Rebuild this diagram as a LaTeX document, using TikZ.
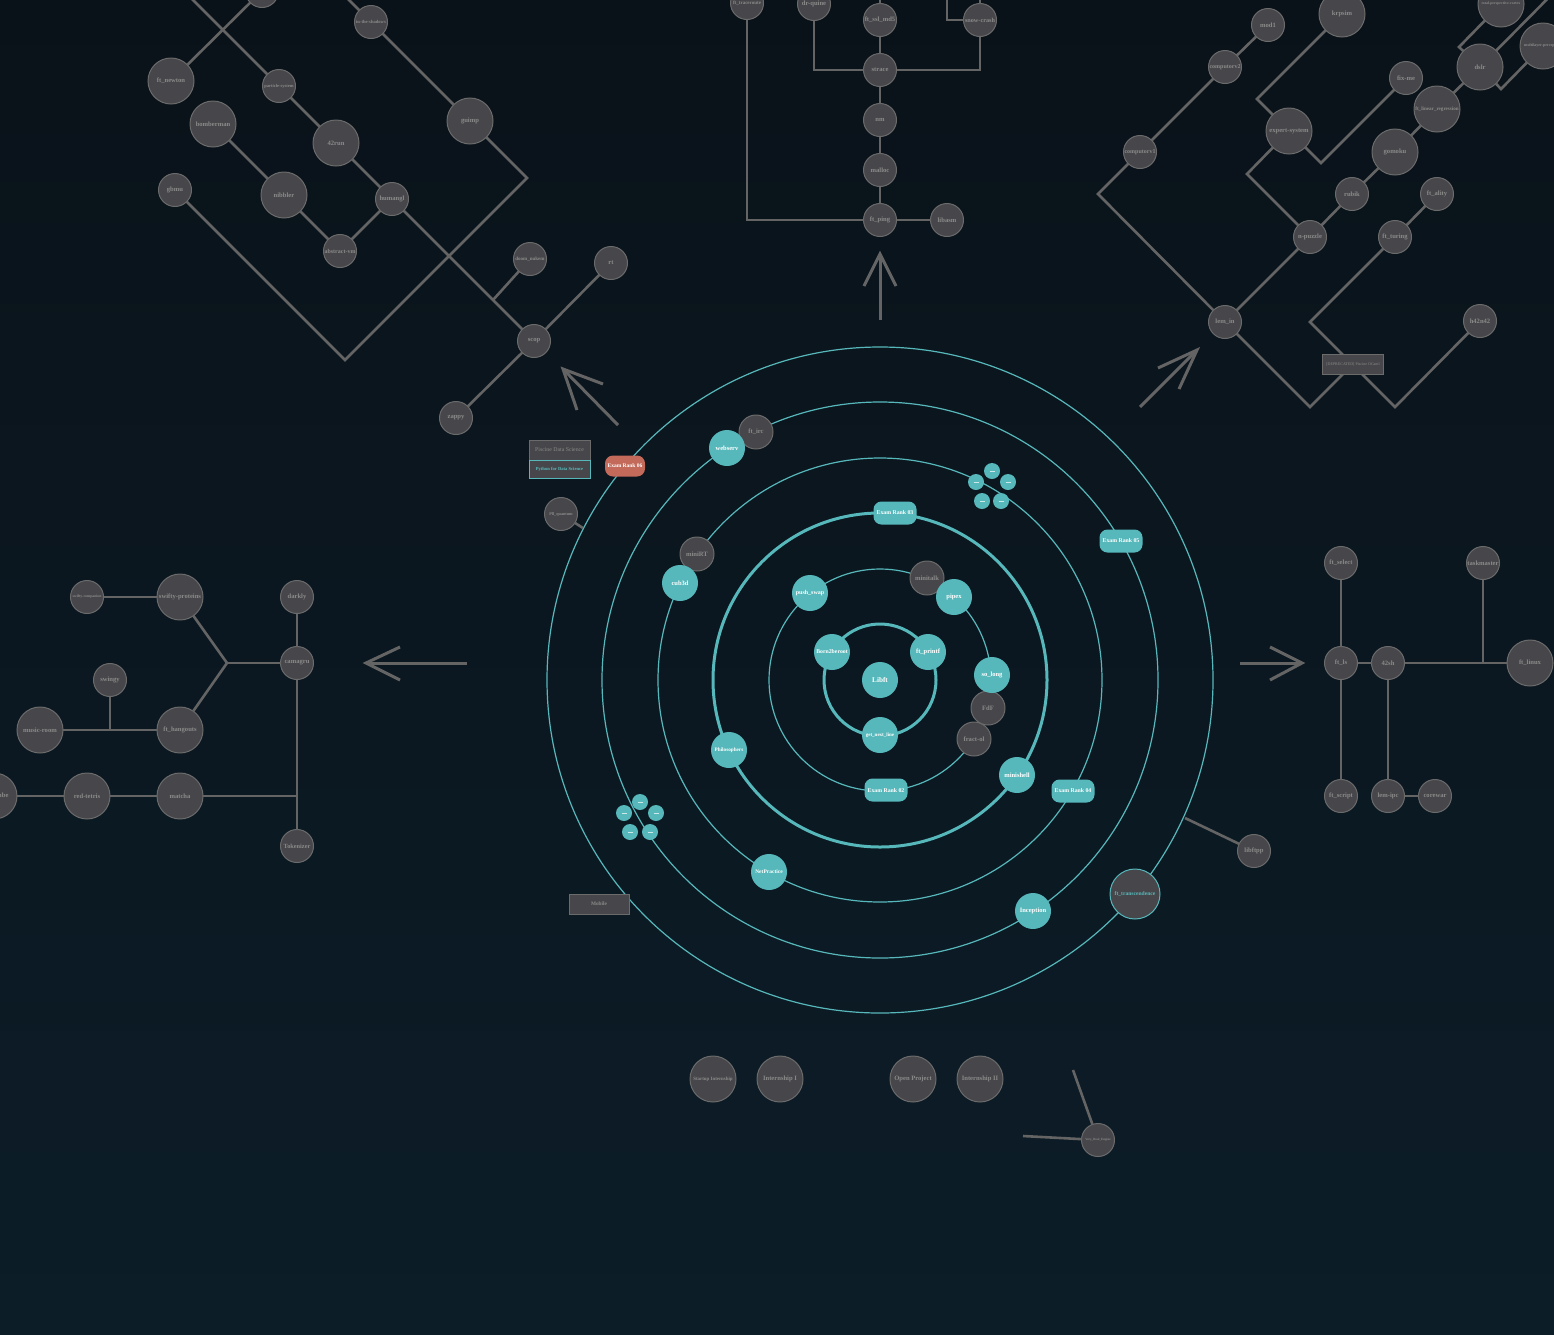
\documentclass[tikz,border=0pt]{standalone}
\usepackage{fontspec}
\setmainfont{Liberation Serif}
\definecolor{bgtop}{HTML}{0A1219}
\definecolor{bgbot}{HTML}{0C1D28}
\definecolor{ngrey}{HTML}{47474B}
\definecolor{nborder}{HTML}{6B6B6B}
\definecolor{tgrey}{HTML}{8A8A8A}
\definecolor{lgrey}{HTML}{646464}
\definecolor{tealc}{HTML}{57B8BB}
\definecolor{examred}{HTML}{C46A5B}
\newcommand\fsz[1]{\fontsize{#1pt}{#1pt}\selectfont\bfseries}
\newcommand\dash{\textcolor{white!70!tealc}{\rule{5pt}{0.4pt}}}
\tikzset{
  base/.style={inner sep=0pt, outer sep=0pt, align=center},
  gn/.style={base, circle, fill=ngrey, draw=nborder, line width=1pt, text=tgrey, minimum size=33pt, font=\fsz{6.6}},
  gl/.style={gn, minimum size=46pt},
  tn/.style={base, circle, fill=tealc, text=white, minimum size=36pt, font=\fsz{6.5}},
  exam/.style={base, rectangle, rounded corners=8pt, fill=tealc, text=white, minimum width=43pt, minimum height=23pt, font=\fsz{5.8}},
  dotnode/.style={base, circle, fill=tealc, minimum size=16pt},
  conn/.style={draw=lgrey, line width=2.6pt},
  ringthin/.style={draw=tealc, line width=1.2pt},
  ringthick/.style={draw=tealc, line width=3pt},
  gbox/.style={base, rectangle, fill=ngrey, draw=nborder, line width=1pt, text=tgrey},
  arrowline/.style={draw=lgrey, line width=3pt},
}
\begin{document}
\begin{tikzpicture}[x=1pt, y=-1pt]
\useasboundingbox (0,0) rectangle (1554,1334);
\clip (0,0) rectangle (1554,1334);
\shade[top color=bgtop, bottom color=bgbot] (0,0) rectangle (1554,1334);

% ---------- rings ----------
\coordinate (ctr) at (880,680);
\draw[ringthick] (ctr) circle[radius=56pt];
\draw[ringthin]  (ctr) circle[radius=111pt];
\draw[ringthick] (ctr) circle[radius=167pt];
\draw[ringthin]  (ctr) circle[radius=222pt];
\draw[ringthin]  (ctr) circle[radius=278pt];
\draw[ringthin]  (ctr) circle[radius=333pt];

% ---------- arrows ----------
\draw[arrowline] (880,320) -- (880,254);
\draw[arrowline, line join=miter] (864,286) -- (880,254) -- (896,286);
\draw[arrowline] (467,663) -- (366,663);
\draw[arrowline, line join=miter] (400,647) -- (366,663) -- (400,680);
\draw[arrowline] (1240,663) -- (1302,663);
\draw[arrowline, line join=miter] (1270,647) -- (1302,663) -- (1270,680);
\draw[arrowline] (618,425) -- (563,369);
\draw[arrowline, line join=miter] (603,384) -- (563,369) -- (577,410);
\draw[arrowline] (1140,407) -- (1197,350);
\draw[arrowline, line join=miter] (1158,368) -- (1197,350) -- (1179,389);

% ---------- central nodes ----------
\node[tn, font=\fsz{7.2}] (libft) at (880,680) {Libft};
\node[tn, font=\fsz{5.8}] (born) at (832,652) {Born2beroot};
\node[tn] (printf) at (928,652) {ft\_printf};
\node[tn, font=\fsz{5}] (gnl) at (880,735) {get\_next\_line};
\node[tn, font=\fsz{6}] (pushswap) at (810,593) {push\_swap};
\node[gn, minimum size=34pt] (minitalk) at (927,578) {minitalk};
\node[tn] (pipex) at (954,597) {pipex};
\node[gn, minimum size=34pt] (fractol) at (974,739) {fract-ol};
\node[gn, minimum size=34pt] (fdf) at (988,708) {FdF};
\node[tn] (solong) at (992,675) {so\_long};
\node[exam] (ex02) at (886,790) {Exam Rank 02};
\node[exam] (ex03) at (895,513) {Exam Rank 03};
\node[tn] (minishell) at (1017,775) {minishell};
\node[tn, font=\fsz{5.2}] (philo) at (729,750) {Philosophers};
\node[gn, minimum size=34pt] (minirt) at (697,554) {miniRT};
\node[tn] (cub3d) at (680,583) {cub3d};
\node[tn, font=\fsz{5.5}] (netpractice) at (769,872) {NetPractice};
\node[exam] (ex04) at (1073,791) {Exam Rank 04};
\node[gn, minimum size=34pt] (ftirc) at (756,432) {ft\_irc};
\node[tn] (webserv) at (727,448) {webserv};
\node[exam] (ex05) at (1121,541) {Exam Rank 05};
\node[tn] (inception) at (1033,911) {Inception};
\node[exam, fill=examred, minimum width=40pt, minimum height=21pt, font=\fsz{5.5}] (ex06) at (625,466) {Exam Rank 06};
\node[gn, draw=tealc, text=tealc, minimum size=50pt, font=\fsz{5.6}] (transc) at (1135,894) {ft\_transcendence};

% module clusters
\node[dotnode] (ma1) at (992,471) {\dash};
\node[dotnode] (ma2) at (976,482) {\dash};
\node[dotnode] (ma3) at (1008,482) {\dash};
\node[dotnode] (ma4) at (982,501) {\dash};
\node[dotnode] (ma5) at (1001,501) {\dash};
\node[dotnode] (mb1) at (640,802) {\dash};
\node[dotnode] (mb2) at (624,813) {\dash};
\node[dotnode] (mb3) at (656,813) {\dash};
\node[dotnode] (mb4) at (630,832) {\dash};
\node[dotnode] (mb5) at (650,832) {\dash};

% ---------- satellites ----------
\node[gbox, minimum width=61pt, minimum height=20pt, font=\fontsize{5.8pt}{5.8pt}\selectfont] (pds) at (559.5,450) {Piscine Data Science};
\node[gbox, draw=tealc, text=tealc, minimum width=61pt, minimum height=18pt, font=\fsz{4.6}, anchor=north] (pyds) at (pds.south) {Python for Data Science};
\node[gn, font=\fsz{4.2}] (quantum) at (561,514) {Pll\_quantum};
\coordinate (quantumend) at (583,528);
\node[gbox, minimum width=60pt, minimum height=20pt, font=\fsz{5.3}] (mobile) at (599,904) {Mobile};
\node[gn] (libftpp) at (1254,851) {libftpp};
\coordinate (libftppend) at (1185,818);
\node[gn, font=\fsz{3.2}] (vre) at (1098,1140) {Very\_Real\_Engine};
\coordinate (vreA) at (1073,1070);
\coordinate (vreB) at (1023,1136);
\node[gl, font=\fsz{4.9}] (startup) at (713,1079) {Startup Internship};
\node[gl] (intern1) at (780,1079) {Internship I};
\node[gl] (openproj) at (913,1079) {Open Project};
\node[gl] (intern2) at (980,1079) {Internship II};

\draw[conn] (quantum) -- (quantumend);
\draw[conn] (libftpp) -- (libftppend);
\draw[conn] (vre) -- (vreA);
\draw[conn] (vre) -- (vreB);

% ---------- top-left tree ----------
\node[gn] (tltop) at (262,-9) {};
\node[gn, font=\fsz{4.6}] (shadows) at (371,22) {in-the-shadows};
\node[gl] (newton) at (171,81) {ft\_newton};
\node[gn, font=\fsz{4.5}] (particle) at (279,86) {particle-system};
\node[gl] (bomberman) at (213,124) {bomberman};
\node[gl] (run42) at (336,143) {42run};
\node[gl] (guimp) at (470,121) {guimp};
\node[gn] (gbmu) at (175,190) {gbmu};
\node[gl] (nibbler) at (284,195) {nibbler};
\node[gn] (humangl) at (392,199) {humangl};
\node[gn, font=\fsz{6}] (avm) at (340,251) {abstract-vm};
\node[gn, font=\fsz{5}] (doom) at (530,259) {doom\_nukem};
\node[gn] (rt) at (611,263) {rt};
\node[gn] (scop) at (534,341) {scop};
\node[gn] (zappy) at (456,418) {zappy};
\coordinate (tlA) at (180,-13);
\coordinate (tlB) at (336,-13);
\coordinate (tlC) at (527,178);
\coordinate (tlD) at (345,360);
\coordinate (tlE) at (493,300);

\draw[conn] (newton) -- (tltop);
\draw[conn] (tlA) -- (particle);
\draw[conn] (particle) -- (run42);
\draw[conn] (run42) -- (humangl);
\draw[conn] (humangl) -- (scop);
\draw[conn] (doom) -- (tlE);
\draw[conn] (bomberman) -- (nibbler);
\draw[conn] (nibbler) -- (avm);
\draw[conn] (avm) -- (humangl);
\draw[conn] (tlB) -- (shadows);
\draw[conn] (shadows) -- (guimp);
\draw[conn] (guimp) -- (tlC) -- (tlD) -- (gbmu);
\draw[conn] (rt) -- (scop);
\draw[conn] (scop) -- (zappy);

% ---------- top-centre tree ----------
\node[gn, font=\fsz{5}] (traceroute) at (747,3) {ft\_traceroute};
\node[gn] (drquine) at (814,4) {dr-quine};
\node[gn] (sslmd5) at (880,20) {ft\_ssl\_md5};
\node[gn, font=\fsz{6.2}] (snowcrash) at (980,20) {snow-crash};
\node[gn] (strace) at (880,70) {strace};
\node[gn] (nm) at (880,120) {nm};
\node[gn] (malloc) at (880,170) {malloc};
\node[gn] (ftping) at (880,220) {ft\_ping};
\node[gn] (libasm) at (947,220) {libasm};
\coordinate (tcA) at (747,220);
\coordinate (tcB) at (814,70);
\coordinate (tcC) at (980,70);
\coordinate (tcD) at (880,-12);
\coordinate (tcE) at (980,-12);
\coordinate (tcF) at (947,-12);
\coordinate (tcG) at (947,20);

\draw[conn, line join=miter] (traceroute) -- (tcA) -- (ftping);
\draw[conn, line join=miter] (drquine) -- (tcB) -- (strace);
\draw[conn, line join=miter] (strace) -- (tcC) -- (snowcrash);
\draw[conn] (tcD) -- (sslmd5);
\draw[conn] (sslmd5) -- (strace);
\draw[conn] (tcE) -- (snowcrash);
\draw[conn, line join=miter] (tcF) -- (tcG) -- (snowcrash);
\draw[conn] (strace) -- (nm);
\draw[conn] (nm) -- (malloc);
\draw[conn] (malloc) -- (ftping);
\draw[conn] (ftping) -- (libasm);

% ---------- top-right tree ----------
\node[gl] (krpsim) at (1342,14) {krpsim};
\node[gl, font=\fsz{3.8}] (tpv) at (1501,4) {total-perspective-vortex};
\node[gl, font=\fsz{4}] (mlp) at (1543,46) {multilayer-perceptron};
\node[gn] (mod1) at (1268,25) {mod1};
\node[gn, font=\fsz{6}] (compv2) at (1225,67) {computorv2};
\node[gn, font=\fsz{6}] (compv1) at (1140,152) {computorv1};
\node[gn] (fixme) at (1406,78) {fix-me};
\node[gl] (dslr) at (1480,67) {dslr};
\node[gl, font=\fsz{5.1}] (ftlr) at (1437,109) {ft\_linear\_regression};
\node[gl] (expert) at (1289,131) {expert-system};
\node[gl] (gomoku) at (1395,152) {gomoku};
\node[gn] (rubik) at (1352,194) {rubik};
\node[gn] (ftality) at (1437,194) {ft\_ality};
\node[gn] (npuzzle) at (1310,237) {n-puzzle};
\node[gn] (ftturing) at (1395,237) {ft\_turing};
\node[gn] (lemin) at (1225,322) {lem\_in};
\node[gn] (h42n42) at (1480,321) {h42n42};
\coordinate (trA) at (1098,194);
\coordinate (trB) at (1247,174);
\coordinate (trC) at (1257,99);
\coordinate (trD) at (1321,163);
\coordinate (trE) at (1570,-24);
\coordinate (trF) at (1459,47);
\coordinate (trG) at (1501,89);
\coordinate (trH) at (1310,322);
\coordinate (trI) at (1395,407);
\coordinate (trJ) at (1310,407);

\draw[conn] (mod1) -- (compv2);
\draw[conn] (compv2) -- (compv1);
\draw[conn, line join=miter] (compv1) -- (trA) -- (lemin);
\draw[conn] (lemin) -- (npuzzle);
\draw[conn, line join=miter] (npuzzle) -- (trB) -- (expert);
\draw[conn, line join=miter] (expert) -- (trC) -- (krpsim);
\draw[conn, line join=miter] (expert) -- (trD) -- (fixme);
\draw[conn] (npuzzle) -- (rubik);
\draw[conn] (rubik) -- (gomoku);
\draw[conn] (gomoku) -- (ftlr);
\draw[conn] (ftlr) -- (dslr);
\draw[conn] (dslr) -- (trE);
\draw[conn, line join=miter] (tpv) -- (trF) -- (dslr);
\draw[conn, line join=miter] (dslr) -- (trG) -- (mlp);
\draw[conn] (ftality) -- (ftturing);
\draw[conn, line join=miter] (ftturing) -- (trH) -- (trI) -- (h42n42);
\coordinate (ocamlc) at (1353,364);
\draw[conn, line join=miter] (lemin) -- (trJ) -- (ocamlc);
\node[gbox, minimum width=61pt, minimum height=20pt, font=\fontsize{4pt}{4pt}\selectfont] (ocaml) at (ocamlc) {[DEPRECATED] Piscine OCaml};

% ---------- left tree ----------
\node[gn, font=\fsz{3.8}] (swcomp) at (87,597) {swifty-companion};
\node[gl] (swprot) at (180,597) {swifty-proteins};
\node[gn] (darkly) at (297,597) {darkly};
\node[gn] (camagru) at (297,663) {camagru};
\node[gn] (swingy) at (110,680) {swingy};
\node[gl] (musicroom) at (40,730) {music-room};
\node[gl] (hangouts) at (180,730) {ft\_hangouts};
\node[gl] (hypertube) at (-6,796) {hypertube};
\node[gl] (redtetris) at (87,796) {red-tetris};
\node[gl] (matcha) at (180,796) {matcha};
\node[gn, font=\fsz{6.3}] (tokenizer) at (297,846) {Tokenizer};
\coordinate (lA) at (227,663);
\coordinate (lB) at (110,730);
\coordinate (lC) at (297,796);

\draw[conn] (swcomp) -- (swprot);
\draw[conn, line join=miter] (swprot) -- (lA) -- (hangouts);
\draw[conn] (lA) -- (camagru);
\draw[conn] (darkly) -- (camagru);
\draw[conn] (camagru) -- (tokenizer);
\draw[conn] (matcha) -- (lC);
\draw[conn] (redtetris) -- (matcha);
\draw[conn] (hypertube) -- (redtetris);
\draw[conn] (musicroom) -- (hangouts);
\draw[conn] (swingy) -- (lB);

% ---------- right tree ----------
\node[gn] (ftselect) at (1341,563) {ft\_select};
\node[gn] (taskmaster) at (1483,563) {taskmaster};
\node[gn] (ftls) at (1341,663) {ft\_ls};
\node[gn] (sh42) at (1388,663) {42sh};
\node[gl] (ftlinux) at (1530,663) {ft\_linux};
\node[gn] (ftscript) at (1341,796) {ft\_script};
\node[gn] (lemipc) at (1388,796) {lem-ipc};
\node[gn] (corewar) at (1435,796) {corewar};
\coordinate (rA) at (1483,663);

\draw[conn] (ftselect) -- (ftls);
\draw[conn] (ftls) -- (ftscript);
\draw[conn] (ftls) -- (sh42);
\draw[conn] (sh42) -- (ftlinux);
\draw[conn] (taskmaster) -- (rA);
\draw[conn] (sh42) -- (lemipc);
\draw[conn] (lemipc) -- (corewar);
\end{tikzpicture}
\end{document}
